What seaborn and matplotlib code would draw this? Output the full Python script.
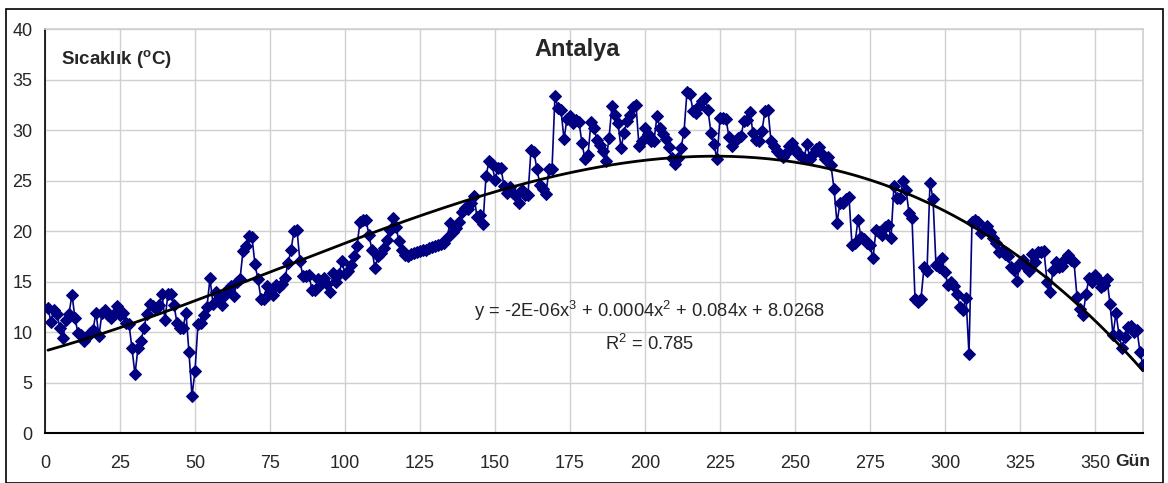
import numpy as np
import matplotlib
matplotlib.use('Agg')
import matplotlib.pyplot as plt
import matplotlib.patches as patches
import seaborn as sns

# günlük ortalama sıcaklıklar (gün 1..366)
temps = [
    12.4, 11.0, 12.2, 11.8, 10.4, 9.4, 11.2, 11.8, 13.7, 11.4,
    9.9, 9.7, 9.1, 9.5, 9.9, 10.2, 11.9, 9.6, 11.9, 12.2,
    11.7, 11.4, 11.8, 12.6, 11.7, 11.9, 10.9, 10.8, 8.4, 5.8,
    8.4, 9.1, 10.4, 11.8, 12.8, 12.6, 12.3, 12.7, 13.8, 11.2,
    13.8, 13.8, 12.7, 10.9, 10.4, 10.4, 11.9, 8.0, 3.7, 6.1,
    10.8, 10.9, 11.7, 12.5, 15.3, 12.8, 14.0, 13.2, 12.7, 13.7,
    14.3, 14.6, 13.6, 15.0, 15.2, 18.0, 18.5, 19.5, 19.4, 16.7,
    15.2, 13.3, 13.3, 14.6, 14.0, 13.7, 14.7, 14.5, 14.8, 15.3,
    16.8, 18.1, 20.0, 20.1, 17.0, 15.5, 15.5, 15.6, 14.2, 14.2,
    15.2, 14.8, 15.3, 14.8, 14.0, 15.8, 15.0, 15.7, 17.0, 15.7,
    16.0, 16.6, 17.5, 18.5, 20.9, 21.1, 21.1, 19.6, 18.1, 16.3,
    17.5, 17.8, 18.3, 19.1, 20.1, 21.3, 20.4, 19.0, 18.1, 17.6,
    17.5, 17.7, 17.8, 17.9, 18.0, 18.1, 18.1, 18.3, 18.4, 18.5,
    18.6, 18.7, 18.8, 19.3, 20.8, 19.9, 20.3, 20.9, 21.9, 22.3,
    22.2, 22.8, 23.5, 21.4, 21.6, 20.7, 25.4, 26.9, 26.6, 25.1,
    26.2, 26.2, 24.5, 23.8, 24.4, 23.8, 23.5, 22.8, 24.1, 23.6,
    23.6, 28.0, 27.8, 26.1, 24.6, 24.2, 23.7, 26.1, 26.1, 33.4,
    32.2, 32.0, 29.1, 31.1, 31.4, 30.7, 31.0, 30.8, 28.7, 27.1,
    27.5, 30.8, 30.2, 29.0, 28.5, 27.9, 26.9, 29.2, 32.4, 31.5,
    30.7, 28.2, 29.7, 30.9, 31.5, 32.3, 32.5, 28.4, 28.9, 30.2,
    29.6, 28.9, 28.9, 31.4, 30.2, 29.6, 29.1, 28.3, 27.2, 26.6,
    27.2, 28.2, 29.8, 33.8, 33.6, 31.9, 31.7, 32.4, 32.9, 33.2,
    32.0, 29.7, 28.6, 27.1, 31.2, 31.2, 31.1, 29.3, 28.4, 28.9,
    29.2, 29.4, 30.9, 31.0, 31.8, 29.7, 29.0, 28.9, 29.9, 31.9,
    32.0, 28.9, 28.4, 27.9, 27.6, 27.3, 27.7, 28.4, 28.7, 28.1,
    27.6, 27.4, 27.2, 28.6, 27.1, 27.6, 28.1, 28.3, 27.6, 27.1,
    27.3, 26.5, 24.2, 20.8, 22.8, 22.8, 23.2, 23.4, 18.6, 18.8,
    21.1, 19.4, 19.2, 18.8, 18.6, 17.3, 20.1, 19.9, 19.6, 20.4,
    20.6, 19.3, 24.5, 23.3, 23.3, 25.0, 24.1, 21.8, 21.3, 13.3,
    13.0, 13.3, 16.4, 16.0, 24.8, 23.2, 16.6, 16.4, 17.3, 15.9,
    14.7, 15.0, 14.6, 13.8, 12.5, 12.2, 13.4, 7.8, 20.9, 21.1,
    20.9, 19.8, 20.1, 20.5, 19.9, 19.3, 18.8, 17.9, 18.0, 17.7,
    17.5, 16.4, 16.1, 15.1, 16.8, 17.1, 16.4, 16.0, 17.7, 16.9,
    17.9, 17.9, 18.0, 15.0, 14.0, 16.1, 16.9, 16.4, 16.5, 17.2,
    17.6, 17.1, 16.9, 13.5, 12.3, 11.7, 13.8, 15.3, 15.0, 15.6,
    15.2, 14.5, 14.7, 15.2, 12.8, 9.7, 11.9, 9.7, 8.4, 9.5,
    10.5, 10.6, 10.0, 10.2, 8.0, 6.7,
]
days = list(range(1, len(temps) + 1))
x_ticks = list(range(0, 351, 25))
y_ticks = list(range(0, 41, 5))

sns.set_theme(style='white')
plt.rcParams['font.family'] = ['Liberation Sans', 'DejaVu Sans']
plt.rcParams['mathtext.fontset'] = 'custom'
plt.rcParams['mathtext.rm'] = 'Liberation Sans'
plt.rcParams['mathtext.bf'] = 'Liberation Sans:bold'

fig = plt.figure(figsize=(11.68, 4.83), dpi=100)
ax = fig.add_axes([0.0385, 0.1035, 0.9401, 0.8364])

# 3. derece polinom eğilim çizgisi
coef = np.polyfit(days, temps, 3)
trend = np.polyval(coef, days)

sns.lineplot(x=days, y=temps, color='#000080', marker='D', markersize=6.3,
             markeredgecolor='#000080', linewidth=1.2, ax=ax, zorder=3)
sns.lineplot(x=days, y=trend, color='black', linewidth=2.0, ax=ax, zorder=4)

ax.set_xlim(0, 366)
ax.set_ylim(0, 40)
ax.set_xticks(x_ticks)
ax.set_yticks(y_ticks)
ax.set_xticklabels([str(t) for t in x_ticks], fontsize=13,
                   fontfamily=['Liberation Sans Narrow', 'Liberation Sans'])
ax.set_yticklabels([str(t) for t in y_ticks], fontsize=13)
ax.grid(True, color='#d0d0d0', linewidth=1)
ax.set_axisbelow(True)
ax.tick_params(axis='x', direction='inout', length=12, width=1, color='black', pad=10)
ax.tick_params(axis='y', direction='out', length=6, width=1, color='black', pad=3)
ax.spines['left'].set_color('black')
ax.spines['bottom'].set_color('black')
ax.spines['left'].set_linewidth(1.2)
ax.spines['bottom'].set_linewidth(1.5)
ax.spines['top'].set_color('#d0d0d0')
ax.spines['right'].set_color('#d0d0d0')
ax.set_xlabel('')
ax.set_ylabel('')

ax.text(0.485, 0.95, 'Antalya', transform=ax.transAxes, ha='center', va='center',
        fontsize=17, fontweight='bold')
ax.text(0.015, 0.925, r'Sıcaklık ($^{\mathbf{o}}$C)', transform=ax.transAxes,
        ha='left', va='center', fontsize=13.5, fontweight='bold')
ax.text(201.5, 12.1, r'y = -2E-06x$^{3}$ + 0.0004x$^{2}$ + 0.084x + 8.0268',
        ha='center', va='center', fontsize=13.2)
ax.text(201.5, 8.8, r'R$^{2}$ = 0.785', ha='center', va='center', fontsize=13.2)
fig.text(0.970, 0.0435, 'Gün', ha='center', va='center', fontsize=12.5, fontweight='bold')

fig.patches.append(patches.Rectangle((0.005, 0.001), 0.9907, 0.98, transform=fig.transFigure,
                                     fill=False, edgecolor='black', linewidth=1.2))

plt.savefig('out.png', dpi=100)
